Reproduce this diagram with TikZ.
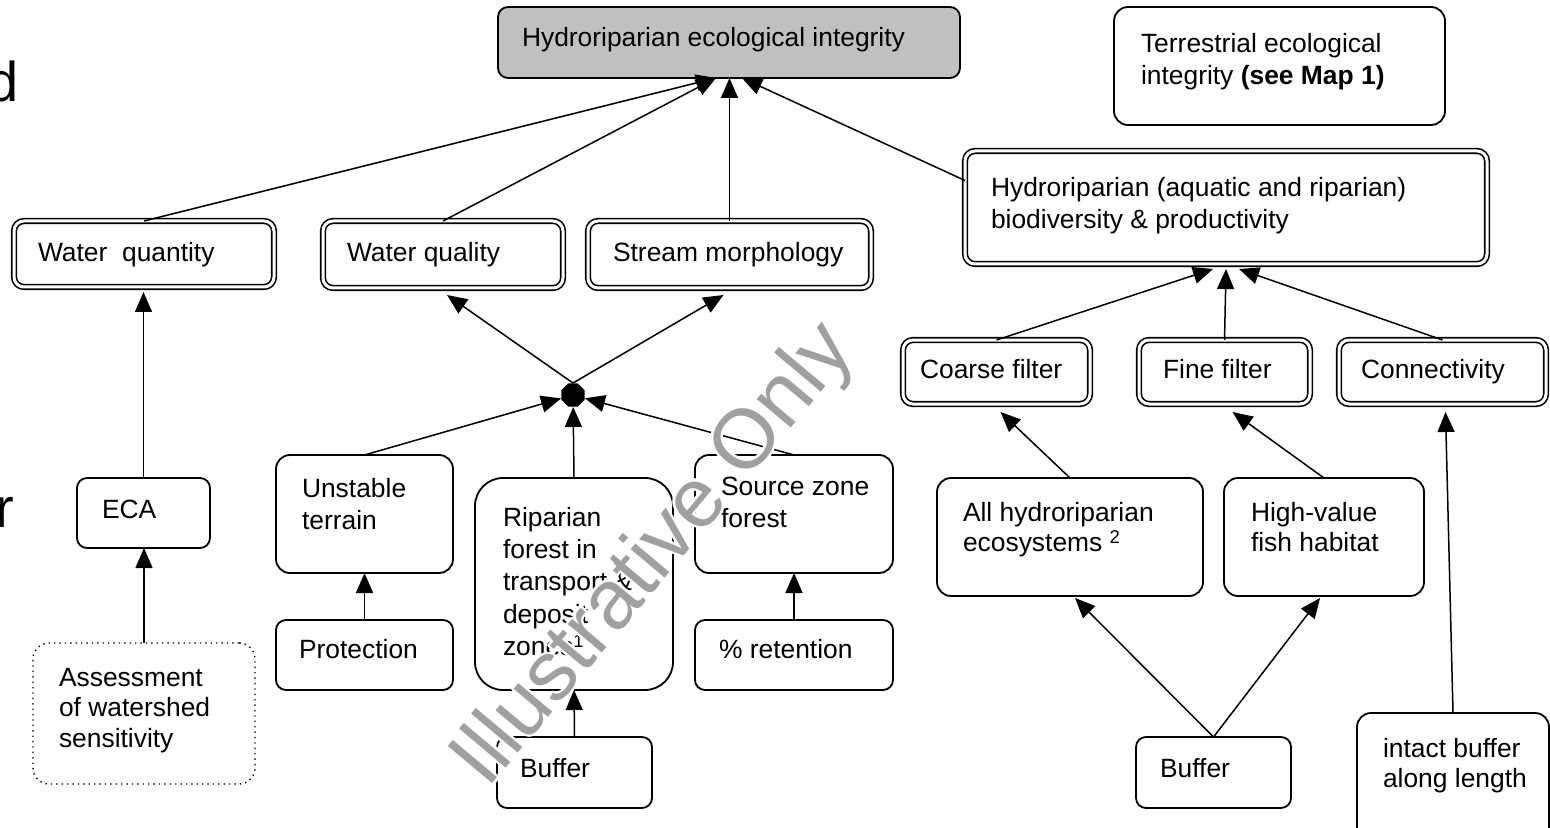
\documentclass[tikz,border=0pt]{standalone}
\usepackage{fontspec}
\setmainfont{Liberation Sans}
\usetikzlibrary{arrows.meta,fit,calc,shapes.geometric}
\newcommand\txtfont{\fontsize{13.2pt}{16.2pt}\selectfont}
\newcommand\txtfonttight{\fontsize{13.2pt}{15.3pt}\selectfont}
\newcommand\bigfont{\fontsize{28pt}{30pt}\selectfont}
\newcommand\markfont{\fontsize{42pt}{44pt}\selectfont}
\definecolor{headgray}{RGB}{192,192,192}
\definecolor{markgray}{RGB}{160,160,160}

\begin{document}
\begin{tikzpicture}[x=0.5pt,y=-0.5pt,
  box/.style={draw, line width=0.9pt, rounded corners=5pt, inner sep=0pt, outer sep=0pt},
  bigbox/.style={box, rounded corners=14pt},
  softbox/.style={box, rounded corners=7pt},
  dotbox/.style={box, line width=0.7pt, dotted, rounded corners=8pt},
  dbox/.style={draw, line width=0.8pt, double, double distance=1.5pt, rounded corners=5pt, inner sep=0pt, outer sep=0pt},
  lbl/.style={inner sep=0pt, outer sep=0pt, font=\txtfont, align=left},
  lblt/.style={lbl, font=\txtfonttight},
  link/.style={line width=0.75pt},
  arr/.style={link, -{Triangle[length=10pt,width=8.5pt]}},
  wmark/.style={inner sep=0pt, outer sep=0pt, font=\markfont, rotate=50, anchor=base},
]
\useasboundingbox (0,0) rectangle (1550,828);
\fill[white] (0,0) rectangle (1550,828);
\clip (0,0) rectangle (1550,828);

% large heading letters running off the left edge
\node[inner sep=0pt, font=\bigfont, anchor=base east] (hd) at (19,102) {d};
\node[inner sep=0pt, font=\bigfont, anchor=base east] (hr) at (15,527) {r};

% top level
\node[box, fill=headgray, fit={(498,7) (960,78)}] (top) {};
\node[lbl, anchor=base west] (top-t) at (522,47) {Hydroriparian ecological integrity};
\node[softbox, fit={(1114,7) (1445,125)}] (terr) {};
\node[lbl, anchor=north west] (terr-t) at (1141,33) {Terrestrial ecological\\integrity \textbf{(see Map 1)}};

% second level (double outlines)
\node[dbox, fit={(14,221) (274,287)}] (wqty) {};
\node[lbl, anchor=base west] (wqty-t) at (38,262) {Water\ \ quantity};
\node[dbox, fit={(323,221) (563,288)}] (wqual) {};
\node[lbl, anchor=base west] (wqual-t) at (347,262) {Water quality};
\node[dbox, fit={(588,221) (871,288)}] (smorph) {};
\node[lbl, anchor=base west] (smorph-t) at (613,262) {Stream morphology};
\node[dbox, fit={(965,151) (1487,264)}] (hbio) {};
\node[lbl, anchor=north west] (hbio-t) at (991,177) {Hydroriparian (aquatic and riparian)\\biodiversity \& productivity};

\node[dbox, fit={(903,340) (1090,404)}] (coarse) {};
\node[lbl, anchor=base west] (coarse-t) at (920,378) {Coarse filter};
\node[dbox, fit={(1139,340) (1310,404)}] (fine) {};
\node[lbl, anchor=base west] (fine-t) at (1163,378) {Fine filter};
\node[dbox, fit={(1339,340) (1546,404)}] (conn) {};
\node[lbl, anchor=base west] (conn-t) at (1361,378) {Connectivity};

% junction of the stream branch
\node[regular polygon, regular polygon sides=8, fill=black, minimum size=12.5pt, inner sep=0pt] (junction) at (573,395) {};

% left column
\node[box, fit={(77,478) (210,548)}] (eca) {};
\node[lbl, anchor=base west] (eca-t) at (102,518) {ECA};
\node[dotbox, fit={(33,643) (255,784)}] (assess) {};
\node[lblt, anchor=north west] (assess-t) at (59,668) {Assessment\\of watershed\\sensitivity};

% middle columns
\node[softbox, fit={(276,455) (453,573)}] (unstable) {};
\node[lbl, anchor=north west] (unstable-t) at (302,478) {Unstable\\terrain};
\node[box, fit={(276,620) (453,690)}] (protect) {};
\node[lbl, anchor=base west] (protect-t) at (299,658) {Protection};
\node[bigbox, fit={(475,478) (673,690)}] (riparian) {};
\node[lbl, anchor=north west] (riparian-t) at (503,507) {Riparian\\forest in\\transport \&\\deposit\\zones\textsuperscript{1}};
\node[softbox, fit={(695,455) (893,573)}] (source) {};
\node[lbl, anchor=north west] (source-t) at (721,477) {Source zone\\forest};
\node[box, fit={(695,620) (893,690)}] (retention) {};
\node[lbl, anchor=base west] (retention-t) at (719,658) {\% retention};
\node[box, fit={(497,737) (652,808)}] (buffera) {};
\node[lbl, anchor=base west] (buffera-t) at (520,777) {Buffer};

% right columns
\node[softbox, fit={(937,478) (1203,596)}] (allhyd) {};
\node[lblt, anchor=north west] (allhyd-t) at (963,502) {All hydroriparian\\ecosystems \textsuperscript{2}};
\node[softbox, fit={(1224,478) (1424,596)}] (highval) {};
\node[lblt, anchor=north west] (highval-t) at (1251,502) {High-value\\fish habitat};
\node[box, fit={(1136,737) (1291,808)}] (bufferb) {};
\node[lbl, anchor=base west] (bufferb-t) at (1160,777) {Buffer};
\node[softbox, fit={(1357,713) (1549,845)}] (intact) {};
\node[lblt, anchor=north west] (intact-t) at (1383,738) {intact buffer\\along length};

% links into the top node
\draw[arr] (wqty.north) -- ($(top.south)+(-13,0)$);
\draw[arr] (wqual.north) -- ($(top.south)+(-13,0)$);
\draw[arr] (smorph.north) -- (smorph.north |- top.south);
\draw[arr] ($(hbio.west)+(0,-27)$) -- ($(top.south)+(13,0)$);

% stream branch
\draw[arr] (junction.north) -- ($(wqual.south)+(4,7)$);
\draw[arr] (junction.north) -- ($(smorph.south)+(-6,7)$);
\draw[arr] (unstable.north) -- (junction);
\draw[arr] (riparian.north) -- (junction);
\draw[arr] (source.north) -- (junction);
\draw[arr] (protect.north) -- (unstable.south);
\draw[arr] (retention.north) -- (source.south);
\draw[arr] (buffera.north) -- (riparian.south);

% water quantity branch
\draw[arr] (eca.north) -- ($(eca.north |- wqty.south)+(0,5)$);
\draw[arr] (assess.north) -- (assess.north |- eca.south);

% biodiversity branch
\draw[arr] (coarse.north) -- ($(hbio.south)+(-13,5)$);
\draw[arr] (fine.north) -- ($(hbio.south)+(0,5)$);
\draw[arr] (conn.north) -- ($(hbio.south)+(13,5)$);
\draw[arr] (allhyd.north) -- ($(coarse.south)+(4,8)$);
\draw[arr] (highval.north) -- ($(fine.south)+(8,8)$);
\draw[arr] (intact.north) -- ($(conn.south)+(3,8)$);
\draw[arr] (bufferb.north) -- ($(allhyd.south)+(5,2)$);
\draw[arr] (bufferb.north) -- ($(highval.south)+(-4,2)$);

% watermark with a white halo
\foreach \a in {0,30,...,330}
  \node[wmark, text=white] (wmh\a) at ($(672,570)+(\a:2.5)$) {Illustrative Only};
\node[wmark, text=markgray] (wm) at (672,570) {Illustrative Only};
\end{tikzpicture}
\end{document}
